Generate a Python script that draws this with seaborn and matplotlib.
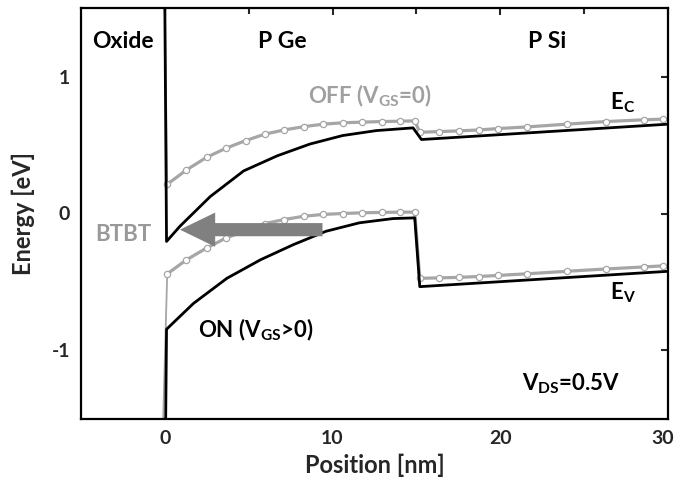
import matplotlib
matplotlib.use("Agg")
import matplotlib.pyplot as plt
import matplotlib.transforms as mtransforms
import seaborn as sns
import numpy as np
import pandas as pd
from matplotlib.patches import FancyArrow

# ON state (V_GS > 0): conduction and valence band edges
on_ec_x = [0.0, 0.1, 0.9, 2.7, 4.7, 6.7, 8.65, 10.6, 12.6, 14.8, 15.3, 30.0]
on_ec_e = [1.5, -0.204, -0.093, 0.123, 0.311, 0.421, 0.507, 0.569, 0.605, 0.625, 0.540, 0.652]
on_ev_x = [0.05, 0.1, 1.7, 3.7, 5.7, 7.65, 9.6, 11.6, 13.6, 14.9, 15.2, 30.0]
on_ev_e = [-1.5, -0.845, -0.657, -0.473, -0.338, -0.228, -0.130, -0.068, -0.037, -0.032, -0.534, -0.422]

# OFF state (V_GS = 0): simulated grid points
off_x = [0.14, 1.29, 2.49, 3.64, 4.81, 5.96, 7.11, 8.29, 9.44, 10.6, 11.77, 12.92, 14.05, 14.9,
         15.2, 16.36, 17.55, 18.72, 19.87, 21.6, 23.95, 26.28, 28.58, 29.71]
off_ec_e = [0.213, 0.318, 0.410, 0.476, 0.532, 0.579, 0.610, 0.634, 0.652, 0.662, 0.667, 0.671, 0.674, 0.676,
            0.593, 0.598, 0.603, 0.610, 0.620, 0.632, 0.652, 0.671, 0.684, 0.689]
off_ev_e = [-0.441, -0.338, -0.252, -0.179, -0.125, -0.074, -0.044, -0.020, -0.007, 0.0, 0.005, 0.008, 0.010, 0.010,
            -0.473, -0.470, -0.466, -0.460, -0.452, -0.440, -0.422, -0.405, -0.390, -0.382]
# oxide interface edges of the OFF bands
off_ec_edge = (0.0, 1.5)
off_ev_edge = (-0.1, -1.5)

xticks = [0, 10, 20, 30]
yticks = [-1, 0, 1]

sns.set_theme(style="white")
plt.rcParams["font.family"] = ["Lato", "DejaVu Sans"]
plt.rcParams["font.weight"] = "bold"
plt.rcParams["axes.unicode_minus"] = False
plt.rcParams["mathtext.fontset"] = "custom"
plt.rcParams["mathtext.rm"] = "Lato:bold"
plt.rcParams["mathtext.bf"] = "Lato:bold"
plt.rcParams["mathtext.default"] = "bf"

fig = plt.figure(figsize=(6.75, 4.88), dpi=100)
ax = fig.add_axes([0.12, 0.1414, 0.8696, 0.8422])

gray = "#a6a6a6"
black = "#000000"

# thin vertical segments at the oxide interface (OFF state)
for edge, e0 in ((off_ec_edge, off_ec_e[0]), (off_ev_edge, off_ev_e[0])):
    seg = pd.DataFrame({"x": [edge[0], off_x[0]], "E": [edge[1], e0]})
    sns.lineplot(data=seg, x="x", y="E", ax=ax, sort=False, estimator=None, color=gray,
                 lw=1.3, zorder=2)

off_ec = pd.DataFrame({"x": off_x, "E": off_ec_e})
off_ev = pd.DataFrame({"x": off_x, "E": off_ev_e})
for df in (off_ec, off_ev):
    sns.lineplot(data=df, x="x", y="E", ax=ax, sort=False, estimator=None, color=gray,
                 lw=2.3, marker="o", markersize=4.5, markerfacecolor="white",
                 markeredgecolor=gray, markeredgewidth=0.9, zorder=2)

on_ec = pd.DataFrame({"x": on_ec_x, "E": on_ec_e})
on_ev = pd.DataFrame({"x": on_ev_x, "E": on_ev_e})
for df in (on_ec, on_ev):
    sns.lineplot(data=df, x="x", y="E", ax=ax, sort=False, estimator=None, color=black,
                 lw=2.0, zorder=3)

# band-to-band tunnelling arrow
ax.add_patch(FancyArrow(9.4, -0.118, -8.5, 0, width=0.096, head_width=0.25, head_length=2.1,
                        length_includes_head=True, color="#808080", lw=0, zorder=4))

ax.set_xlim(-5, 30)
ax.set_ylim(-1.5, 1.5)
ax.set_xticks(xticks)
ax.set_yticks(yticks)
ax.set_xticks([5, 15, 25], minor=True)
ax.tick_params(axis="both", which="both", direction="in", top=True, right=True,
               width=1.5, labelsize=14, pad=8)
ax.tick_params(which="major", length=5)
ax.tick_params(which="minor", length=4)
for lab in ax.get_xticklabels() + ax.get_yticklabels():
    lab.set_fontweight("bold")
# keep the rightmost x label inside the canvas
last = ax.get_xticklabels()[-1]
last.set_transform(last.get_transform() + mtransforms.ScaledTranslation(-5 / 100, 0, fig.dpi_scale_trans))

for s in ax.spines.values():
    s.set_linewidth(1.6)
    s.set_color("black")

ax.set_xlabel("Position [nm]", fontsize=17, fontweight="bold", labelpad=5)
ax.set_ylabel("Energy [eV]", fontsize=17, fontweight="bold", labelpad=12)

txt = dict(fontweight="bold", ha="center", va="center")
ax.text(-2.5, 1.255, "Oxide", fontsize=16.5, color="black", **txt)
ax.text(7.0, 1.255, "P Ge", fontsize=16.5, color="black", **txt)
ax.text(22.8, 1.255, "P Si", fontsize=16.5, color="black", **txt)
ax.text(12.2, 0.86, r"OFF (V$_{\mathbf{GS}}$=0)", fontsize=16, color="#a0a0a0", **txt)
ax.text(5.4, -0.85, r"ON (V$_{\mathbf{GS}}$>0)", fontsize=16, color="black", **txt)
ax.text(-2.5, -0.15, "BTBT", fontsize=16, color="#999999", **txt)
ax.text(27.3, 0.81, r"E$_{\mathbf{C}}$", fontsize=16, color="black", **txt)
ax.text(27.3, -0.58, r"E$_{\mathbf{V}}$", fontsize=16, color="black", **txt)
ax.text(24.2, -1.24, r"V$_{\mathbf{DS}}$=0.5V", fontsize=16, color="black", **txt)

fig.savefig("out.png", dpi=100)
